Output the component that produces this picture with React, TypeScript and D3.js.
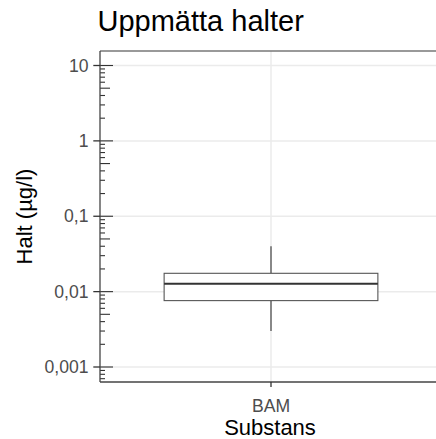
import React from "react";
import * as d3 from "d3";

// Box statistics for each substance (µg/l)
const categories = ["BAM"];
const lowerWhisker = [0.003];
const lowerQuartile = [0.0076];
const medians = [0.0127];
const upperQuartile = [0.0175];
const upperWhisker = [0.04];
const yTickValues = [0.001, 0.01, 0.1, 1, 10];
const yTickLabels = ["0,001", "0,01", "0,1", "1", "10"];

const W = 436;
const H = 439;
const FONT = "'Liberation Sans', Arial, Helvetica, sans-serif";

export default function App() {
  const panelLeft = 100;
  const panelRight = 442;
  const panelTop = 51;
  const panelBottom = 382;

  const y = d3.scaleLog().domain([0.001, 10]).range([367, 65.5]);
  const x = d3
    .scaleBand<string>()
    .domain(categories)
    .range([panelLeft, panelRight])
    .paddingOuter(0.225)
    .paddingInner(0);
  const step = (panelRight - panelLeft) / 1.2;
  const boxW = step * 0.75;

  // log tick marks inside the panel: long at decades, medium at 5, short otherwise
  const logTicks: { v: number; len: number }[] = [];
  for (let e = -4; e <= 1; e++) {
    for (let m = 1; m <= 9; m++) {
      const v = m * Math.pow(10, e);
      const py = y(v);
      if (py < panelTop || py > panelBottom) continue;
      logTicks.push({ v, len: m === 1 ? 13 : m === 5 ? 10 : 5 });
    }
  }

  const cx = (c: string) => (x(c) as number) + x.bandwidth() / 2;

  return (
    <svg width={W} height={H} style={{ position: "absolute", left: 0, top: 0, background: "#fff" }}>
      <rect x={0} y={0} width={W} height={H} fill="#fff" />
      {/* grid */}
      {yTickValues.map((v) => (
        <line key={"g" + v} x1={panelLeft} x2={panelRight} y1={y(v)} y2={y(v)} stroke="#EBEBEB" strokeWidth={1.5} />
      ))}
      {categories.map((c) => (
        <line key={"gx" + c} x1={cx(c)} x2={cx(c)} y1={panelTop} y2={panelBottom} stroke="#EBEBEB" strokeWidth={1.5} />
      ))}
      {/* boxes */}
      {categories.map((c, i) => {
        const xc = cx(c);
        return (
          <g key={"b" + c}>
            <line x1={xc} x2={xc} y1={y(upperWhisker[i])} y2={y(upperQuartile[i])} stroke="#333" strokeWidth={1.1} />
            <line x1={xc} x2={xc} y1={y(lowerQuartile[i])} y2={y(lowerWhisker[i])} stroke="#333" strokeWidth={1.1} />
            <rect
              x={xc - boxW / 2}
              y={y(upperQuartile[i])}
              width={boxW}
              height={y(lowerQuartile[i]) - y(upperQuartile[i])}
              fill="#fff"
              stroke="#555"
              strokeWidth={1.1}
            />
            <line x1={xc - boxW / 2} x2={xc + boxW / 2} y1={y(medians[i])} y2={y(medians[i])} stroke="#333" strokeWidth={2} />
          </g>
        );
      })}
      {/* log ticks */}
      {logTicks.map((t) => (
        <line key={"lt" + t.v} x1={panelLeft} x2={panelLeft + t.len} y1={y(t.v)} y2={y(t.v)} stroke="#333" strokeWidth={1.1} />
      ))}
      {/* panel outline */}
      <line x1={panelLeft} x2={panelRight} y1={panelTop} y2={panelTop} stroke="#777" strokeWidth={1.3} />
      <line x1={panelLeft} x2={panelLeft} y1={panelTop} y2={panelBottom} stroke="#444" strokeWidth={1.3} />
      <line x1={panelLeft} x2={panelRight} y1={panelBottom} y2={panelBottom} stroke="#444" strokeWidth={1.3} />
      {/* y axis ticks and labels */}
      {yTickValues.map((v, i) => (
        <g key={"yt" + v}>
          <line x1={panelLeft - 6.7} x2={panelLeft} y1={y(v)} y2={y(v)} stroke="#333" strokeWidth={1.3} />
          <text x={88.5} y={y(v)} dy="0.35em" textAnchor="end" fontFamily={FONT} fontSize={17.6} fill="#4D4D4D">
            {yTickLabels[i]}
          </text>
        </g>
      ))}
      {/* x axis ticks and labels */}
      {categories.map((c) => (
        <g key={"xt" + c}>
          <line x1={cx(c)} x2={cx(c)} y1={panelBottom} y2={panelBottom + 5} stroke="#333" strokeWidth={1.3} />
          <text x={cx(c)} y={411.5} textAnchor="middle" fontFamily={FONT} fontSize={17.6} fill="#4D4D4D">
            {c}
          </text>
        </g>
      ))}
      {/* titles */}
      <text x={97.5} y={31} fontFamily={FONT} fontSize={29} fill="#000">
        Uppmätta halter
      </text>
      <text x={270} y={435} textAnchor="middle" fontFamily={FONT} fontSize={22} fill="#000">
        Substans
      </text>
      <text
        transform={`translate(32.3, ${(panelTop + panelBottom) / 2}) rotate(-90)`}
        textAnchor="middle"
        fontFamily={FONT}
        fontSize={22}
        fill="#000"
      >
        Halt (µg/l)
      </text>
    </svg>
  );
}
